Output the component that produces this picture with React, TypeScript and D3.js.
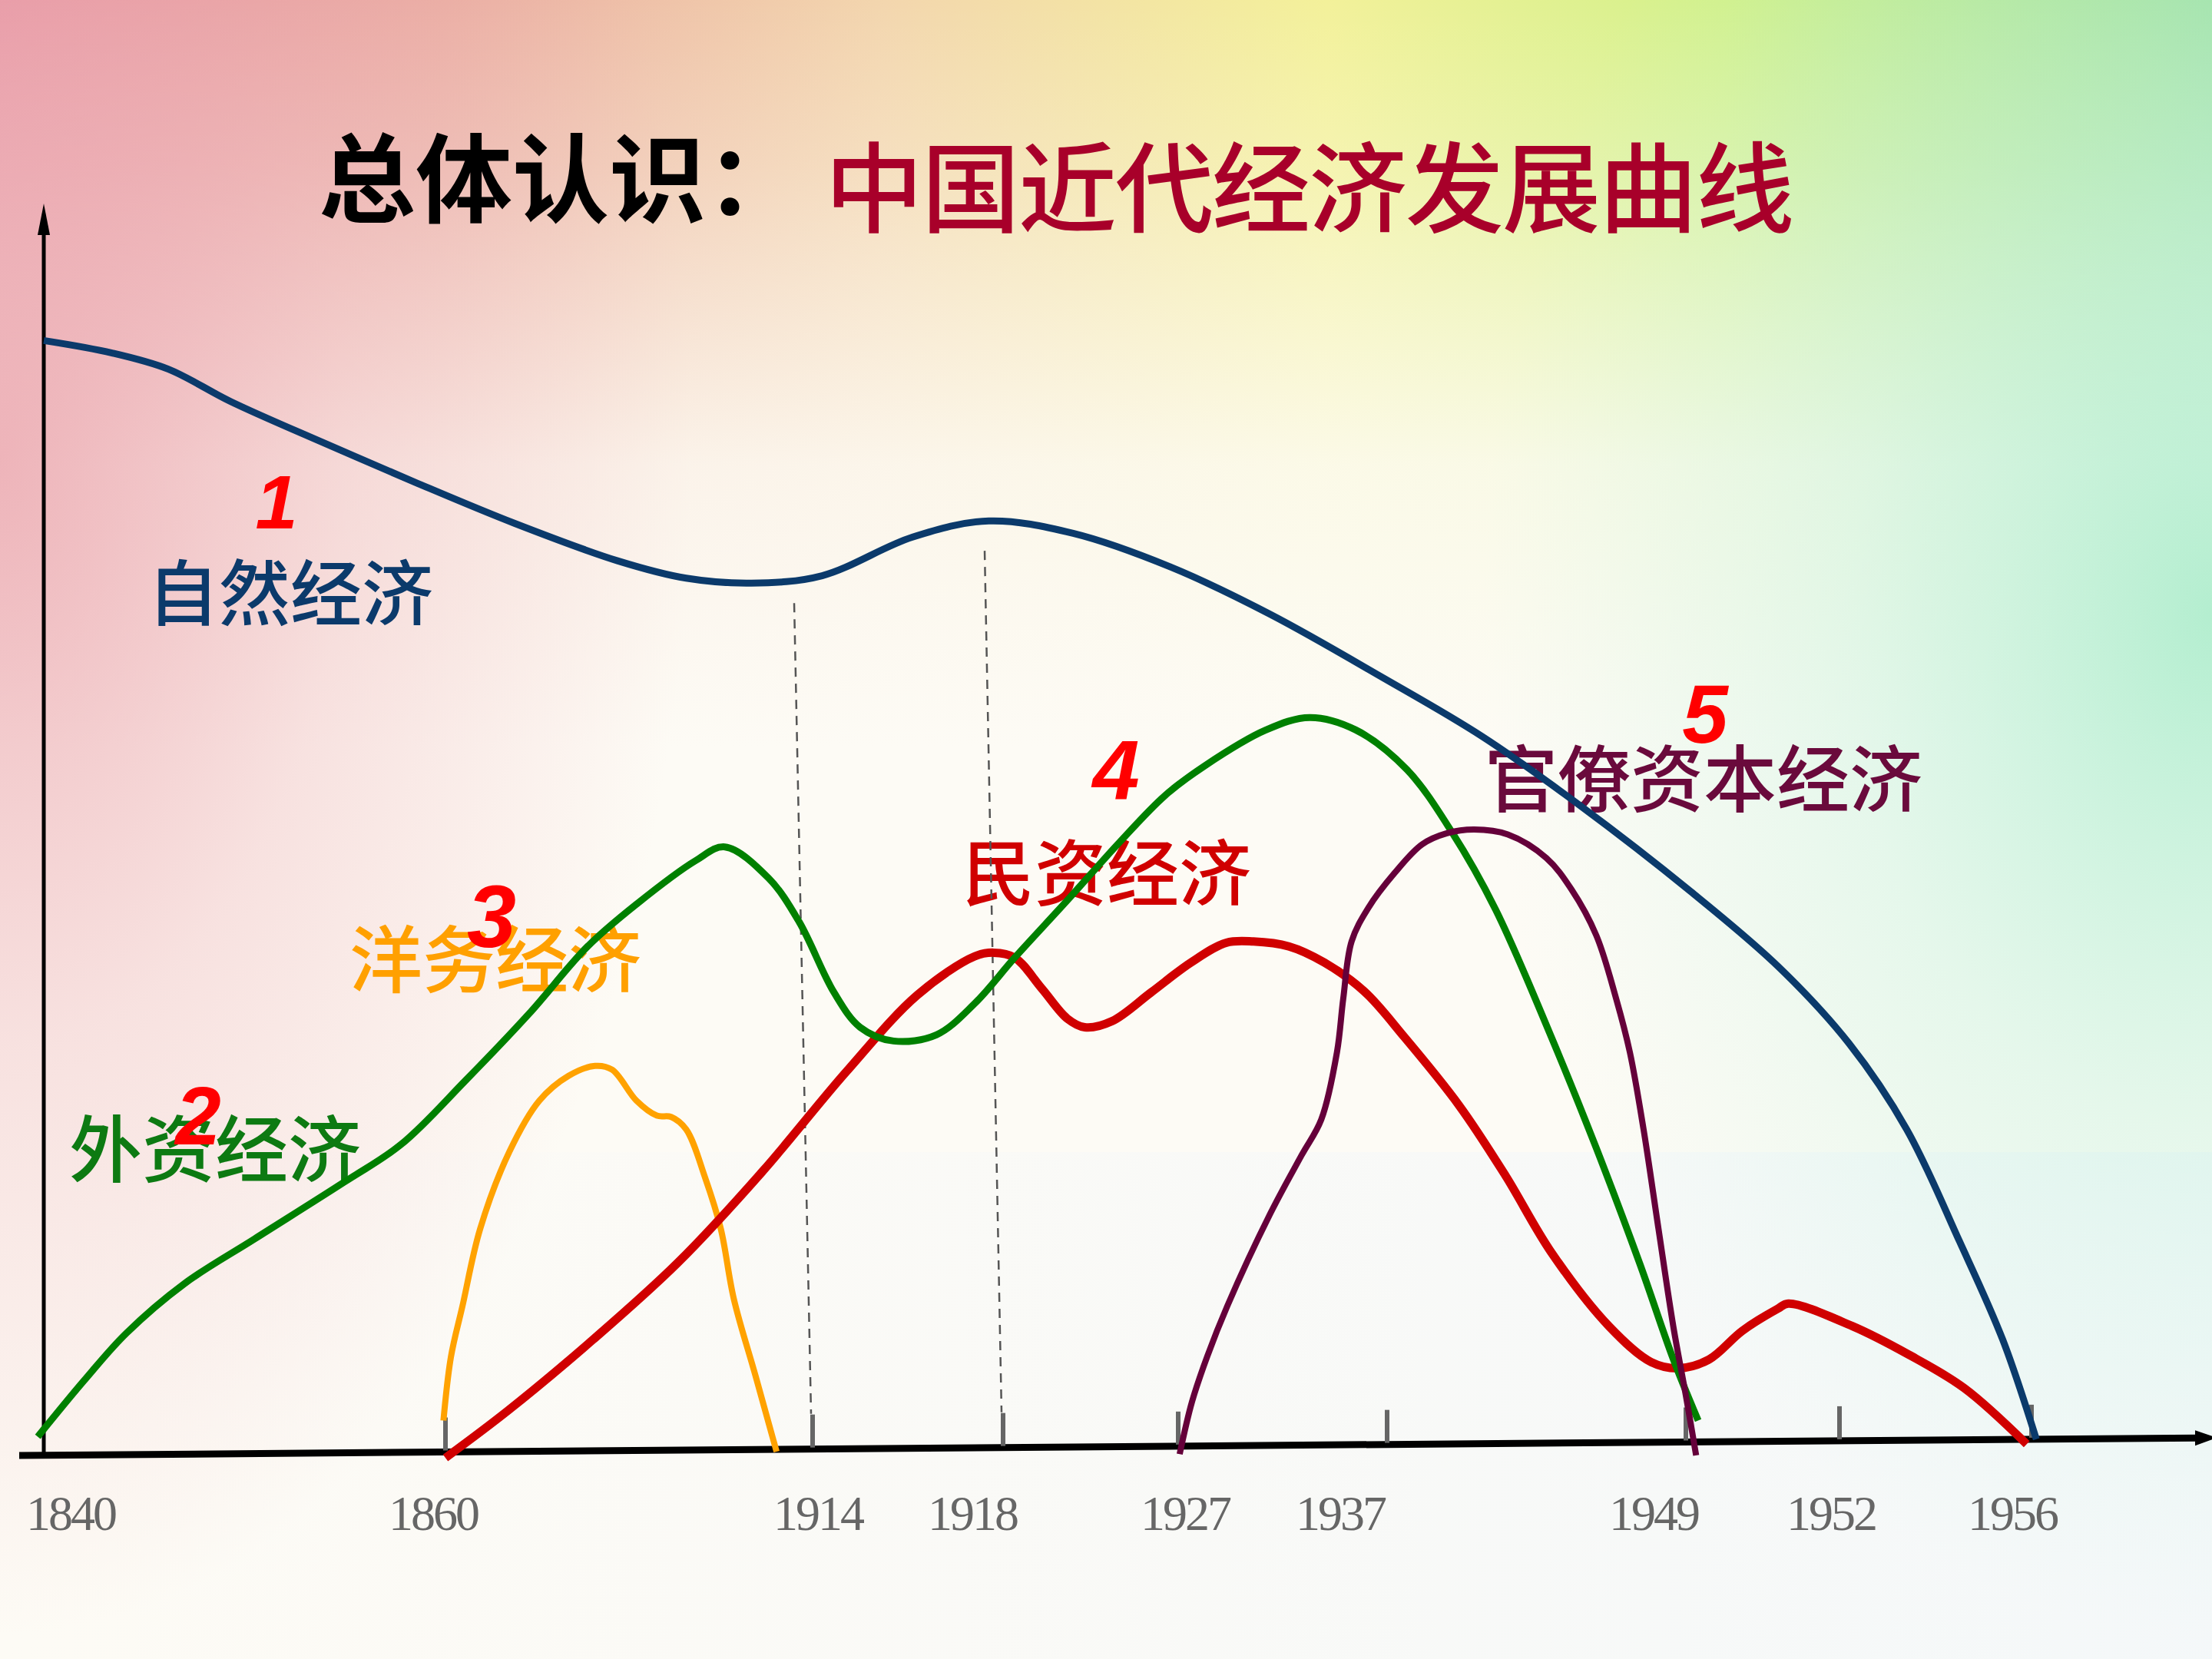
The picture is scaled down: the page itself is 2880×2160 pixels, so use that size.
import React from 'react';
import * as d3 from 'd3';

const W = 2880;
const H = 2160;

// x axis: year ticks (not evenly spaced on the axis)
const tickYears = [1840, 1860, 1914, 1918, 1927, 1937, 1949, 1952, 1956];
const tickX = [57, 580, 1058, 1306, 1534, 1806, 2195, 2395, 2645];
const tickLabelDx = [35, -16, 7, -40, 9, -61, -42, -11, -25];

// [year, level] for each curve
const naturalEconomy: [number, number][] = [
  [1840, 89.3], [1843.4, 88.3], [1846.2, 87.0], [1849.3, 84.4], [1853.9, 81.1],
  [1858.5, 77.9], [1870.2, 74.6], [1885.3, 71.6], [1895.4, 70.2], [1905.0, 69.8],
  [1914.2, 70.4], [1916.1, 73.5], [1917.7, 74.8], [1921.6, 73.8], [1926.6, 71.1],
  [1931.4, 67.3], [1936.8, 62.2], [1940.8, 57.5], [1944.7, 52.0], [1949.1, 45.0],
  [1950.8, 39.0], [1952.2, 32.8], [1953.4, 25.9], [1954.5, 16.9], [1955.4, 9.0],
  [1956.1, 1.0],
];

const foreignCapital: [number, number][] = [
  [1839.7, 1.2], [1842.0, 5.7], [1844.1, 9.5], [1847.0, 13.5], [1850.5, 17.1],
  [1854.9, 21.6], [1857.8, 24.7], [1862.9, 29.8], [1872.3, 35.2], [1880.9, 40.6],
  [1888.1, 44.0], [1896.8, 47.5], [1901.1, 48.6], [1907.5, 46.1], [1912.0, 42.6],
  [1914.45, 36.9], [1915.0, 34.1], [1915.7, 33.0], [1916.6, 33.5], [1917.4, 36.0],
  [1918.6, 39.7], [1921.3, 44.3], [1924.0, 49.0], [1926.3, 52.7], [1928.25, 55.1],
  [1931.2, 58.0], [1933.3, 59.0], [1935.5, 58.0], [1937.8, 54.8], [1939.6, 49.8],
  [1941.35, 43.6], [1943.6, 33.3], [1945.4, 24.4], [1947.15, 15.1], [1948.5, 7.4],
  [1949.24, 2.5],
];

const westernization: [number, number][] = [
  [1859.9, 2.5], [1860.8, 7.6], [1862.5, 11.7], [1865.1, 17.9], [1869.4, 24.1],
  [1873.8, 28.2], [1878.1, 30.2], [1882.0, 31.0], [1884.5, 30.7], [1888.1, 28.2],
  [1891.1, 27.0], [1893.2, 26.9], [1895.4, 25.9], [1898.2, 22.0], [1900.5, 17.9],
  [1902.4, 12.3], [1905.6, 6.1], [1908.7, 0],
];

const nationalCapital: [number, number][] = [
  [1860.0, -0.5], [1869.2, 3.3], [1881.7, 9.0], [1894.2, 15.2], [1906.6, 22.5],
  [1914.7, 30.5], [1916.2, 36.7], [1917.4, 39.8], [1917.8, 40.1], [1918.6, 39.7],
  [1920.0, 37.2], [1921.3, 34.8], [1922.2, 34.1], [1923.6, 34.6], [1925.6, 36.9],
  [1927.6, 39.3], [1929.3, 40.9], [1930.6, 41.0], [1932.3, 40.6], [1934.0, 39.3],
  [1935.9, 37.0], [1937.7, 33.3], [1939.9, 27.8], [1941.75, 22.2], [1943.6, 16.0],
  [1945.9, 10.1], [1947.6, 7.2], [1948.7, 6.7], [1949.45, 7.4], [1950.1, 9.7],
  [1950.8, 11.5], [1951.0, 11.9], [1952.26, 10.1], [1953.44, 7.8], [1954.6, 5.1],
  [1955.9, 0.6],
];

const bureaucraticCapital: [number, number][] = [
  [1927.07, -0.2], [1927.66, 4.0], [1928.4, 7.7], [1929.35, 11.7], [1931.4, 19.1],
  [1932.9, 23.8], [1933.85, 26.7], [1934.6, 32.1], [1934.9, 36.4], [1935.3, 41.0],
  [1936.1, 43.7], [1937.3, 46.5], [1938.4, 48.8], [1939.4, 49.7], [1940.5, 50.0],
  [1941.85, 49.6], [1943.4, 47.7], [1944.4, 45.2], [1945.4, 41.5], [1946.2, 36.4],
  [1946.75, 32.1], [1947.3, 25.9], [1947.9, 17.9], [1948.5, 10.0], [1949.0, 4.5],
  [1949.2, -0.3],
];

// dashed guides dropped from the natural-economy curve to 1914 / 1918
const guideYears = [1914, 1918];
const guideTops = [68.2, 72.4];

const seriesNames = ['自然经济', '外资经济', '洋务经济', '民资经济', '官僚资本经济'];
const seriesNumbers = ['1', '2', '3', '4', '5'];

// label layout: [x, baseline, fontSize]
const nameLayout = [
  [192, 807, 93],
  [90, 1532, 95],
  [455, 1285, 95],
  [1253, 1172, 94],
  [1933, 1050, 95],
];
const numberLayout = [
  [360, 688, 99],
  [258, 1490, 107],
  [640, 1233, 115],
  [1453, 1040, 110],
  [2220, 967, 107],
];

const lineColors = ['#0b3a6b', '#008000', '#ffa200', '#d00000', '#65003a'];
const textColors = ['#0b3a6b', '#0d7a12', '#ffa000', '#d00000', '#6a0a3c'];

export default function App() {
  const x = d3.scaleLinear().domain(tickYears).range(tickX);
  const y = d3.scaleLinear().domain([0, 100]).range([1890, 270]);
  const line = d3
    .line<[number, number]>()
    .x((d) => x(d[0]))
    .y((d) => y(d[1]))
    .curve(d3.curveCatmullRom.alpha(0.5));

  // the baseline is drawn very slightly tilted
  const axisY = (px: number) => 1895 - (23 * (px - 25)) / 2855;

  // draw order: natural, westernization, national, foreign, bureaucratic
  const curves = [
    { d: naturalEconomy, c: lineColors[0], w: 9 },
    { d: westernization, c: lineColors[2], w: 8 },
    { d: nationalCapital, c: lineColors[3], w: 11 },
    { d: foreignCapital, c: lineColors[1], w: 9 },
    { d: bureaucraticCapital, c: lineColors[4], w: 8 },
  ];

  const cjk = '"Noto Sans CJK SC", sans-serif';

  return (
    <svg
      width={W}
      height={H}
      viewBox={`0 0 ${W} ${H}`}
      style={{ position: 'absolute', left: 0, top: 0, display: 'block' }}
    >
      <defs>
        <linearGradient id="topBand" x1="0" y1="0" x2="1" y2="0">
          <stop offset="0" stopColor="#e899a6" />
          <stop offset="0.2" stopColor="#ebb0a4" />
          <stop offset="0.4" stopColor="#f3d6ae" />
          <stop offset="0.6" stopColor="#f3f19a" />
          <stop offset="0.78" stopColor="#d2f18a" />
          <stop offset="1" stopColor="#9fe0a0" />
        </linearGradient>
        <linearGradient id="fade" x1="0" y1="0" x2="0" y2="1">
          <stop offset="0" stopColor="#fdfbf5" stopOpacity="0" />
          <stop offset="0.1" stopColor="#fdfbf5" stopOpacity="0.25" />
          <stop offset="0.28" stopColor="#fdfbf5" stopOpacity="0.85" />
          <stop offset="0.45" stopColor="#fdfbf5" stopOpacity="1" />
        </linearGradient>
        <radialGradient
          id="leftGlow"
          gradientUnits="userSpaceOnUse"
          cx="0"
          cy="600"
          r="900"
          gradientTransform="translate(0,600) scale(1,1.7) translate(0,-600)"
        >
          <stop offset="0" stopColor="#eba6ae" stopOpacity="0.8" />
          <stop offset="0.5" stopColor="#eba6ae" stopOpacity="0.3" />
          <stop offset="1" stopColor="#eba6ae" stopOpacity="0" />
        </radialGradient>
        <radialGradient
          id="rightGlow"
          gradientUnits="userSpaceOnUse"
          cx="2880"
          cy="800"
          r="950"
          gradientTransform="translate(2880,800) scale(1,1.4) translate(-2880,-800)"
        >
          <stop offset="0" stopColor="#a8ecca" stopOpacity="0.85" />
          <stop offset="0.5" stopColor="#b8f0d8" stopOpacity="0.35" />
          <stop offset="1" stopColor="#c8f4e4" stopOpacity="0" />
        </radialGradient>
        <linearGradient id="bottomCool" x1="0" y1="0" x2="1" y2="0">
          <stop offset="0" stopColor="#f6f8fa" stopOpacity="0" />
          <stop offset="1" stopColor="#f2f7fa" stopOpacity="0.8" />
        </linearGradient>
      </defs>

      {/* background */}
      <rect width={W} height={H} fill="url(#topBand)" />
      <rect width={W} height={H} fill="url(#fade)" />
      <rect y={1500} width={W} height={660} fill="url(#bottomCool)" />
      <rect width={W} height={H} fill="url(#leftGlow)" />
      <rect width={W} height={H} fill="url(#rightGlow)" />

      {/* title */}
      <text x={415} y={280} fontFamily={cjk} fontSize={126} fontWeight={700} fill="#000">
        总体认识：
      </text>
      <text
        x={1074}
        y={293}
        fontFamily={cjk}
        fontSize={128}
        fontWeight={500}
        letterSpacing={-2}
        fill="#a8002a"
      >
        中国近代经济发展曲线
      </text>

      {/* series names */}
      {seriesNames.map((name, i) => (
        <text
          key={name}
          x={nameLayout[i][0]}
          y={nameLayout[i][1]}
          fontFamily={cjk}
          fontSize={nameLayout[i][2]}
          fontWeight={500}
          fill={textColors[i]}
        >
          {name}
        </text>
      ))}

      {/* dashed guides */}
      {guideYears.map((yr, i) => (
        <line
          key={yr}
          x1={x(yr) - 24}
          y1={y(guideTops[i])}
          x2={x(yr) - 2}
          y2={axisY(x(yr)) - 46}
          stroke="#555"
          strokeWidth={2.5}
          strokeDasharray="12 9"
        />
      ))}

      {/* y axis */}
      <line x1={57} y1={1895} x2={57} y2={300} stroke="#000" strokeWidth={5} />
      <polygon points="57,265 49,306 65,306" fill="#000" />

      {/* x axis */}
      <line x1={25} y1={axisY(25)} x2={2862} y2={axisY(2862)} stroke="#000" strokeWidth={9} />
      <polygon points={`2886,${axisY(2886)} 2858,${axisY(2858) - 10} 2858,${axisY(2858) + 10}`} fill="#000" />

      {/* ticks */}
      {tickYears.slice(1).map((yr) => {
        const px = x(yr);
        return (
          <line
            key={yr}
            x1={px}
            x2={px}
            y1={axisY(px) - 2}
            y2={axisY(px) - 45}
            stroke="#666"
            strokeWidth={6}
          />
        );
      })}

      {/* tick labels */}
      {tickYears.map((yr, i) => (
        <text
          key={yr}
          x={tickX[i] + tickLabelDx[i]}
          y={1992}
          textAnchor="middle"
          fontFamily='"Liberation Serif", serif'
          fontSize={64}
          letterSpacing={-3}
          fill="#666"
        >
          {yr}
        </text>
      ))}

      {/* curves */}
      {curves.map((s, i) => (
        <path
          key={i}
          d={line(s.d) || ''}
          fill="none"
          stroke={s.c}
          strokeWidth={s.w}
          strokeLinecap="butt"
          strokeLinejoin="round"
        />
      ))}

      {/* stage numbers */}
      {seriesNumbers.map((n, i) => (
        <text
          key={n}
          x={numberLayout[i][0]}
          y={numberLayout[i][1]}
          textAnchor="middle"
          fontFamily='"Liberation Sans", sans-serif'
          fontStyle="italic"
          fontWeight={700}
          fontSize={numberLayout[i][2]}
          fill="#ff0000"
        >
          {n}
        </text>
      ))}
    </svg>
  );
}
